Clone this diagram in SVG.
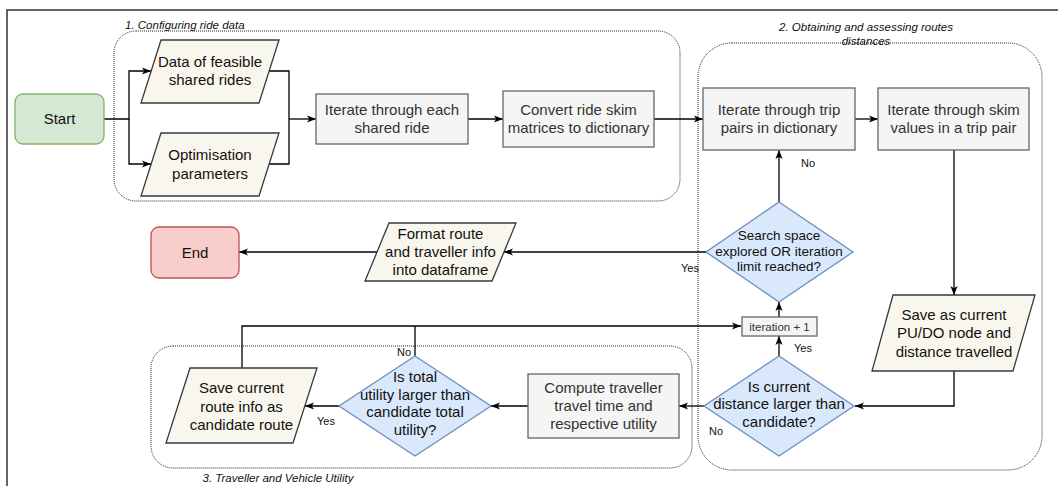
<svg xmlns="http://www.w3.org/2000/svg" width="1058" height="486" viewBox="0 0 1058 486">
<style>
text{font-family:"Liberation Sans",Arial,sans-serif;}
.t{font-size:15px;fill:#111;text-anchor:middle;}
.tg{font-size:15px;fill:#333;text-anchor:middle;}
.lbl{font-size:11px;fill:#111;text-anchor:middle;}
.grp{font-size:11.5px;font-style:italic;fill:#111;}
.box{fill:#f5f5f5;stroke:#666;stroke-width:1.3;}
.para{fill:#f9f7ed;stroke:#36393d;stroke-width:1.3;}
.dia{fill:#dae8fc;stroke:#6c8ebf;stroke-width:1.3;}
.dot{fill:none;stroke:#222;stroke-width:1;stroke-dasharray:1 1;}
.edge{fill:none;stroke:#000;stroke-width:1.3;}
</style>
<defs>
<marker id="arr" viewBox="0 0 10 10" refX="10" refY="5" markerWidth="9" markerHeight="9" markerUnits="userSpaceOnUse" orient="auto">
<path d="M0,1 L10,5 L0,9 L2.5,5 z" fill="#000"/>
</marker>
</defs>
<rect width="1058" height="486" fill="#fff"/>
<path d="M7,486 V10 H1058" fill="none" stroke="#333" stroke-width="1.5"/>

<g id="groups">
<rect class="dot" x="114" y="31" width="566" height="170" rx="22"/>
<text class="grp" x="125" y="29">1. Configuring ride data</text>
<rect class="dot" x="698" y="43" width="344" height="427" rx="34"/>
<text class="grp" x="866" y="31" text-anchor="middle">2. Obtaining and assessing routes</text>
<text class="grp" x="866" y="45" text-anchor="middle">distances</text>
<rect class="dot" x="151" y="346" width="541" height="122" rx="22"/>
<text class="grp" x="278" y="482" text-anchor="middle">3. Traveller and Vehicle Utility</text>
</g>

<g id="connectors">
<path class="edge" d="M104,119 H129 V71 H151" marker-end="url(#arr)"/>
<path class="edge" d="M129,119 V164 H151" marker-end="url(#arr)"/>
<path class="edge" d="M269,71 H289 V164 H269"/>
<path class="edge" d="M289,119 H316" marker-end="url(#arr)"/>
<path class="edge" d="M468,119 H503" marker-end="url(#arr)"/>
<path class="edge" d="M654,119 H703" marker-end="url(#arr)"/>
<path class="edge" d="M855,119 H878" marker-end="url(#arr)"/>
<path class="edge" d="M954,150 V295" marker-end="url(#arr)"/>
<path class="edge" d="M954,371 V406 H855" marker-end="url(#arr)"/>
<path class="edge" d="M704,406 H679" marker-end="url(#arr)"/>
<path class="edge" d="M528,406 H491" marker-end="url(#arr)"/>
<path class="edge" d="M339,406 H305" marker-end="url(#arr)"/>
<path class="edge" d="M242,368 V326 H741" marker-end="url(#arr)"/>
<path class="edge" d="M415,356 V326"/>
<path class="edge" d="M779,356 V336" marker-end="url(#arr)"/>
<path class="edge" d="M779,317 V302" marker-end="url(#arr)"/>
<path class="edge" d="M779,202 V150" marker-end="url(#arr)"/>
<path class="edge" d="M706,252 H504" marker-end="url(#arr)"/>
<path class="edge" d="M377,252 H239" marker-end="url(#arr)"/>
<text class="lbl" x="808" y="167">No</text>
<text class="lbl" x="690" y="272">Yes</text>
<text class="lbl" x="803" y="352">Yes</text>
<text class="lbl" x="716" y="435">No</text>
<text class="lbl" x="326" y="425">Yes</text>
<text class="lbl" x="404" y="356">No</text>
</g>

<g id="start">
<rect x="15" y="94" width="89" height="50" rx="8" fill="#d5e8d4" stroke="#82b366" stroke-width="1.3"/>
<text class="t" x="59.5" y="124">Start</text>
</g>
<g id="data-rides">
<polygon class="para" points="161,40 279,40 259,103 141,103"/>
<text class="t" x="210" y="67">Data of feasible</text>
<text class="t" x="210" y="85">shared rides</text>
</g>
<g id="opt-params">
<polygon class="para" points="161,133 279,133 259,196 141,196"/>
<text class="t" x="210" y="160">Optimisation</text>
<text class="t" x="210" y="179">parameters</text>
</g>
<g id="iterate-rides">
<rect class="box" x="316" y="94" width="152" height="50"/>
<text class="tg" x="392" y="115">Iterate through each</text>
<text class="tg" x="392" y="133">shared ride</text>
</g>
<g id="convert">
<rect class="box" x="503" y="91" width="151" height="56"/>
<text class="tg" x="578.5" y="115">Convert ride skim</text>
<text class="tg" x="578.5" y="133">matrices to dictionary</text>
</g>
<g id="trip-pairs">
<rect class="box" x="703" y="88" width="152" height="62"/>
<text class="tg" x="779" y="115">Iterate through trip</text>
<text class="tg" x="779" y="133">pairs in dictionary</text>
</g>
<g id="skim-values">
<rect class="box" x="878" y="88" width="151" height="62"/>
<text class="tg" x="953.5" y="115">Iterate through skim</text>
<text class="tg" x="953.5" y="133">values in a trip pair</text>
</g>
<g id="save-pudo">
<polygon class="para" points="893,295 1035,295 1013,371 872,371"/>
<text class="t" x="954" y="320">Save as current</text>
<text class="t" x="954" y="338">PU/DO node and</text>
<text class="t" x="954" y="357">distance travelled</text>
</g>
<g id="is-current">
<polygon class="dia" points="779,356 854,406 779,456 704,406"/>
<text class="t" x="779" y="392">Is current</text>
<text class="t" x="779" y="409">distance larger than</text>
<text class="t" x="779" y="427">candidate?</text>
</g>
<g id="iteration">
<rect class="box" x="742" y="317" width="75" height="19"/>
<text x="779.5" y="330.5" font-size="11.5" fill="#333" text-anchor="middle">iteration + 1</text>
</g>
<g id="search">
<polygon class="dia" points="779,202 853,252 779,302 706,252"/>
<text x="779" y="240" font-size="13.5" fill="#111" text-anchor="middle">Search space</text>
<text x="779" y="256" font-size="13.5" fill="#111" text-anchor="middle">explored OR iteration</text>
<text x="779" y="271" font-size="13.5" fill="#111" text-anchor="middle">limit reached?</text>
</g>
<g id="format">
<polygon class="para" points="389,223 516,223 492,281 365,281"/>
<text class="t" x="440.5" y="239">Format route</text>
<text class="t" x="440.5" y="257">and traveller info</text>
<text class="t" x="440.5" y="275">into dataframe</text>
</g>
<g id="end">
<rect x="151" y="227" width="88" height="51" rx="8" fill="#f8cecc" stroke="#b85450" stroke-width="1.3"/>
<text class="t" x="195" y="257.5">End</text>
</g>
<g id="compute">
<rect class="box" x="528" y="374" width="151" height="64"/>
<text class="tg" x="603.5" y="393">Compute traveller</text>
<text class="tg" x="603.5" y="411">travel time and</text>
<text class="tg" x="603.5" y="429">respective utility</text>
</g>
<g id="is-total">
<polygon class="dia" points="415,356 491,406 415,456 339,406"/>
<text class="t" x="415" y="382">Is total</text>
<text class="t" x="415" y="400">utility larger than</text>
<text class="t" x="415" y="417">candidate total</text>
<text class="t" x="415" y="435">utility?</text>
</g>
<g id="save-route">
<polygon class="para" points="190,368 317,368 293,443 166,443"/>
<text class="t" x="241.5" y="393">Save current</text>
<text class="t" x="241.5" y="412">route info as</text>
<text class="t" x="241.5" y="430">candidate route</text>
</g>
</svg>
